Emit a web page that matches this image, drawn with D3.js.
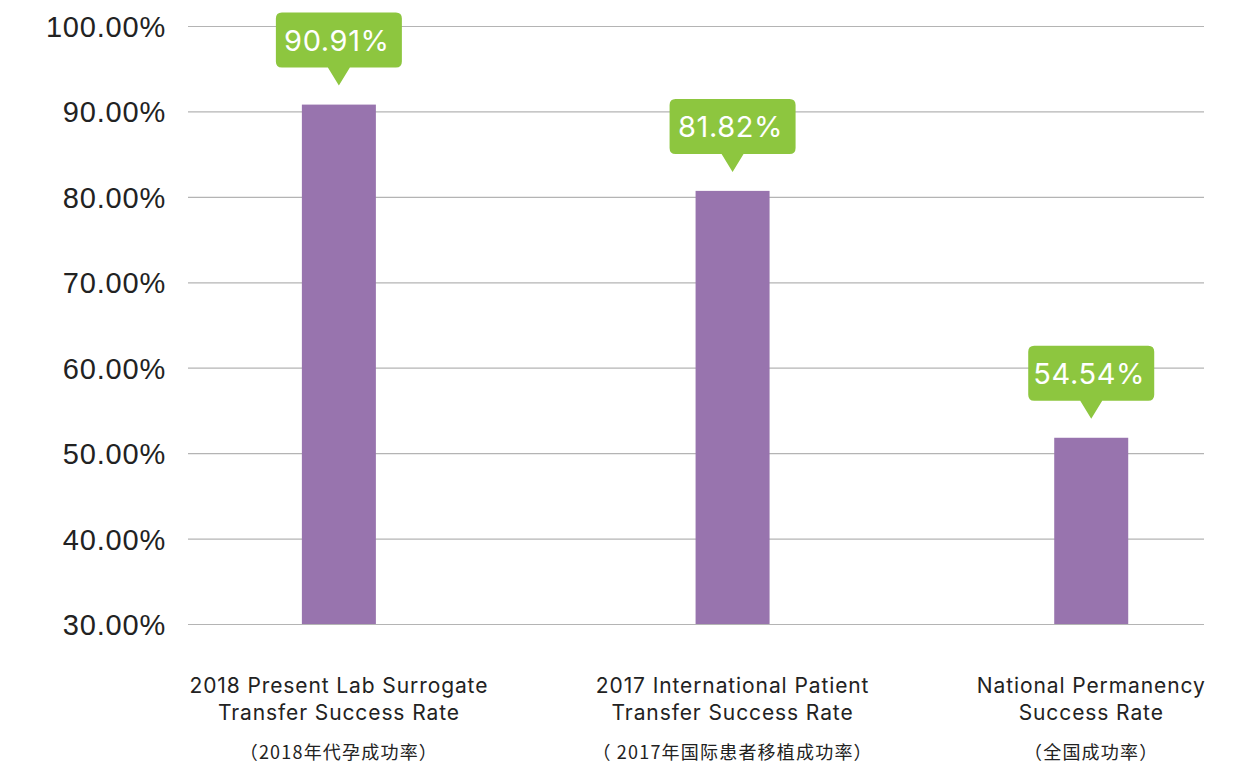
<!DOCTYPE html>
<html><head><meta charset="utf-8">
<script src="https://cdn.jsdelivr.net/npm/d3@7"></script>
<style>
html,body{margin:0;padding:0;background:#fff;}
svg{display:block;font-family:Inter,"Noto Sans",sans-serif;}
</style></head>
<body>
<svg id="chart" width="1251" height="778"></svg>
<script>
const categories = ["2018 Present Lab Surrogate|Transfer Success Rate", "2017 International Patient|Transfer Success Rate", "National Permanency|Success Rate"];
const subLabels = ["（2018年代孕成功率）", "（ 2017年国际患者移植成功率）", "（全国成功率）"];
const barValues = [90.8, 80.7, 51.8];
const bubbleLabels = ["90.91%", "81.82%", "54.54%"];
const yTicks = [30, 40, 50, 60, 70, 80, 90, 100];

const svg = d3.select("#chart");
const margin = {left: 188, right: 47, top: 26, bottom: 154};
const W = 1251, H = 778;
const plotW = W - margin.left - margin.right;

const y = d3.scaleLinear().domain([30, 100]).range([H - margin.bottom, margin.top]);
const x = d3.scaleOrdinal().domain(categories)
  .range([0.1485, 0.536, 0.889].map(f => margin.left + f * plotW));
const barW = 74;

// grid + y axis
const yAxis = d3.axisLeft(y).tickValues(yTicks).tickSize(-plotW).tickPadding(22)
  .tickFormat(d => d.toFixed(2) + "%");
const gy = svg.append("g").attr("transform", `translate(${margin.left},0)`).call(yAxis);
gy.select(".domain").remove();
gy.selectAll(".tick line").attr("stroke", "#b4b4b4").attr("stroke-width", 1.2);
gy.selectAll(".tick text").attr("fill", "#222").attr("font-size", 29)
  .attr("letter-spacing", 0.8).attr("dy", "0.36em");

// bars
svg.append("g").selectAll("rect").data(categories).join("rect")
  .attr("x", d => x(d) - barW / 2)
  .attr("y", (d, i) => y(barValues[i]))
  .attr("width", barW)
  .attr("height", (d, i) => y(30) - y(barValues[i]))
  .attr("fill", "#9874ae");

// bubbles
const bw = 126, bh = 55, gap = 19, tipH = 18, tipW = 22;
const bub = svg.append("g").selectAll("g").data(categories).join("g")
  .attr("transform", (d, i) => `translate(${x(d)},${y(barValues[i]) - gap})`);
bub.append("path")
  .attr("d", () => {
    const r = 6, l = -bw / 2, rr = bw / 2, t = -tipH - bh, b = -tipH;
    return `M${l + r},${t} H${rr - r} Q${rr},${t} ${rr},${t + r} V${b - r} Q${rr},${b} ${rr - r},${b}
      H${tipW / 2} L0,0 L${-tipW / 2},${b} H${l + r} Q${l},${b} ${l},${b - r} V${t + r} Q${l},${t} ${l + r},${t} Z`;
  })
  .attr("fill", "#8dc63f");
bub.append("text")
  .attr("x", -2).attr("y", -tipH - bh / 2).attr("dy", "0.36em")
  .attr("text-anchor", "middle").attr("fill", "#fff").attr("font-size", 29)
  .attr("letter-spacing", 0.6)
  .text((d, i) => bubbleLabels[i]);

// x labels
const xl = svg.append("g").selectAll("g").data(categories).join("g")
  .attr("transform", d => `translate(${x(d)},0)`);
xl.each(function (d, i) {
  const g = d3.select(this);
  d.split("|").forEach((line, j) => {
    g.append("text").attr("x", 0).attr("y", 693 + j * 27)
      .attr("text-anchor", "middle").attr("fill", "#222").attr("font-size", 21)
      .attr("letter-spacing", 0.9).text(line);
  });
  g.append("text").attr("x", 0).attr("y", 759)
    .attr("text-anchor", "middle").attr("fill", "#222").attr("font-size", 18)
    .attr("letter-spacing", 1.2)
    .attr("font-family", "'Noto Sans CJK SC', sans-serif").text(subLabels[i]);
});
</script>
</body></html>
